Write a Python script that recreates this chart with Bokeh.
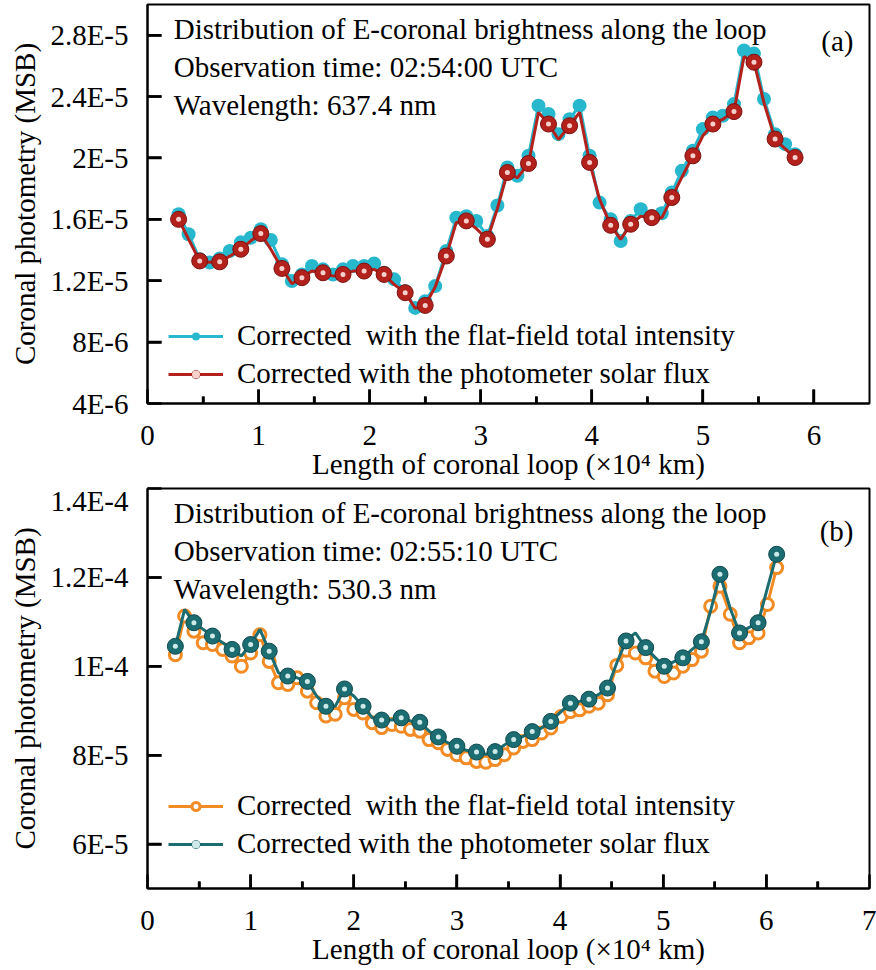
import math
from bokeh.plotting import figure
from bokeh.layouts import column
from bokeh.models import (Range1d, FixedTicker, CustomJSTickFormatter, Label,
                          Legend, LegendItem)
from bokeh.embed import file_html
from bokeh.resources import INLINE

FONT = "Liberation Serif"
FS = "29px"

# ---------------- data: panel (a), 637.4 nm ----------------
x_a = [0.28, 0.37, 0.47, 0.56, 0.65, 0.74, 0.84, 0.93, 1.02, 1.11,
       1.21, 1.30, 1.39, 1.48, 1.58, 1.67, 1.76, 1.85, 1.95, 2.04,
       2.13, 2.22, 2.32, 2.41, 2.50, 2.59, 2.69, 2.78, 2.87, 2.96,
       3.06, 3.15, 3.24, 3.33, 3.43, 3.52, 3.61, 3.70, 3.80, 3.89,
       3.98, 4.07, 4.17, 4.26, 4.35, 4.44, 4.54, 4.63, 4.72, 4.81,
       4.91, 5.00, 5.09, 5.18, 5.28, 5.37, 5.46, 5.55, 5.65, 5.74, 5.83]
# values in units of 1E-5 MSB
flat_a_e5 = [1.633, 1.503, 1.34, 1.318, 1.345, 1.394, 1.45, 1.48, 1.535, 1.465,
             1.307, 1.198, 1.241, 1.296, 1.274, 1.241, 1.274, 1.296, 1.296, 1.313,
             1.252, 1.209, 1.132, 1.023, 1.067, 1.165, 1.394, 1.61, 1.62, 1.589,
             1.492, 1.69, 1.938, 1.884, 2.014, 2.341, 2.286, 2.155, 2.253, 2.341,
             2.014, 1.709, 1.60, 1.459, 1.589, 1.666, 1.62, 1.64, 1.775, 1.916,
             2.047, 2.188, 2.264, 2.275, 2.351, 2.70, 2.68, 2.384, 2.155, 2.09, 2.025]
phot_a_e5 = [1.60, 1.47, 1.329, 1.32, 1.323, 1.36, 1.405, 1.46, 1.507, 1.405,
             1.28, 1.18, 1.22, 1.263, 1.252, 1.23, 1.241, 1.263, 1.263, 1.274,
             1.241, 1.176, 1.122, 1.02, 1.039, 1.16, 1.361, 1.58, 1.59, 1.54,
             1.47, 1.67, 1.905, 1.87, 1.964, 2.297, 2.221, 2.12, 2.21, 2.297,
             1.971, 1.73, 1.561, 1.47, 1.568, 1.62, 1.611, 1.61, 1.742, 1.873,
             2.014, 2.145, 2.221, 2.253, 2.302, 2.66, 2.624, 2.36, 2.123, 2.06, 2.003]

# ---------------- data: panel (b), 530.3 nm ----------------
x_b = [0.27, 0.36, 0.45, 0.54, 0.63, 0.73, 0.82, 0.91, 1.00, 1.09,
       1.18, 1.27, 1.36, 1.45, 1.55, 1.64, 1.73, 1.82, 1.91, 2.00,
       2.09, 2.18, 2.27, 2.37, 2.46, 2.55, 2.64, 2.73, 2.82, 2.91,
       3.00, 3.09, 3.19, 3.28, 3.37, 3.46, 3.55, 3.64, 3.73, 3.82,
       3.91, 4.01, 4.10, 4.19, 4.28, 4.37, 4.46, 4.55, 4.64, 4.73,
       4.83, 4.92, 5.01, 5.10, 5.19, 5.28, 5.37, 5.46, 5.55, 5.65,
       5.74, 5.83, 5.92, 6.01, 6.10]
flat_b_e5 = [10.26, 11.13, 10.79, 10.53, 10.49, 10.38, 10.23, 10.0, 10.30, 10.71,
             10.11, 9.63, 9.59, 9.74, 9.44, 9.18, 8.88, 8.92, 9.29, 9.03,
             8.95, 8.73, 8.62, 8.69, 8.65, 8.58, 8.54, 8.35, 8.28, 8.13,
             8.01, 7.94, 7.86, 7.84, 7.90, 8.01, 8.16, 8.31, 8.35, 8.50,
             8.61, 8.87, 8.98, 9.02, 9.10, 9.17, 9.36, 10.02, 10.36, 10.30,
             10.19, 9.89, 9.77, 9.85, 10.0, 10.15, 10.34, 11.35, 11.80, 11.17,
             10.53, 10.64, 10.75, 11.39, 12.22]
phot_b_e5 = [10.45, 11.28, 10.98, 10.83, 10.68, 10.53, 10.38, 10.23, 10.49, 10.83,
             10.34, 9.85, 9.78, 9.74, 9.66, 9.33, 9.10, 9.10, 9.49, 9.33,
             9.10, 8.84, 8.79, 8.79, 8.84, 8.77, 8.74, 8.54, 8.41, 8.28,
             8.20, 8.11, 8.07, 8.02, 8.08, 8.23, 8.35, 8.42, 8.53, 8.61,
             8.76, 8.98, 9.17, 9.21, 9.26, 9.36, 9.51, 10.08, 10.57, 10.75,
             10.42, 10.2, 10.0, 10.1, 10.19, 10.38, 10.55, 11.25, 12.07, 11.3,
             10.75, 10.87, 10.98, 11.76, 12.52]

flat_a = [v * 1e-5 for v in flat_a_e5]
phot_a = [v * 1e-5 for v in phot_a_e5]
flat_b = [v * 1e-5 for v in flat_b_e5]
phot_b = [v * 1e-5 for v in phot_b_e5]

# ticks
yticks_a = [4e-6, 8e-6, 1.2e-5, 1.6e-5, 2e-5, 2.4e-5, 2.8e-5]
ylabels_a = ["4E-6", "8E-6", "1.2E-5", "1.6E-5", "2E-5", "2.4E-5", "2.8E-5"]
yticks_b = [6e-5, 8e-5, 1e-4, 1.2e-4, 1.4e-4]
ylabels_b = ["6E-5", "8E-5", "1E-4", "1.2E-4", "1.4E-4"]
xticks_a = [0, 1, 2, 3, 4, 5, 6]
xminor_a = [0.5, 1.5, 2.5, 3.5, 4.5, 5.5]
xticks_b = [0, 1, 2, 3, 4, 5, 6, 7]
xminor_b = [0.5, 1.5, 2.5, 3.5, 4.5, 5.5, 6.5]

texts_a = ["Distribution of E-coronal brightness along the loop",
           "Observation time: 02:54:00 UTC",
           "Wavelength: 637.4 nm"]
texts_b = ["Distribution of E-coronal brightness along the loop",
           "Observation time: 02:55:10 UTC",
           "Wavelength: 530.3 nm"]
legend_flat = "Corrected  with the flat-field total intensity"
legend_phot = "Corrected with the photometer solar flux"

FMT_CODE = """
let best = 0; let bd = Infinity;
for (let i = 0; i < tv.length; i++) {
  const d = Math.abs(tv[i] - tick);
  if (d < bd) { bd = d; best = i; }
}
return tl[best];
"""

W = 876
BL, BR = 147, 7
FRAME_W = W - BL - BR
MAJOR_LEN, MINOR_LEN = 14, 7
TICK_W = 2.5


def style(p, xt, xm, yt, yl, frame_h):
    p.xgrid.visible = False
    p.ygrid.visible = False
    p.outline_line_color = "black"
    p.outline_line_width = 2
    p.background_fill_color = "white"
    p.border_fill_color = "white"
    for ax in (p.xaxis[0], p.yaxis[0]):
        ax.axis_line_width = 2
        ax.axis_line_color = "black"
        ax.major_tick_in = MAJOR_LEN
        ax.major_tick_out = 0
        ax.minor_tick_in = MINOR_LEN
        ax.minor_tick_out = 0
        ax.major_tick_line_width = TICK_W
        ax.minor_tick_line_width = TICK_W
        ax.major_tick_line_color = "black"
        ax.minor_tick_line_color = "black"
        ax.major_label_text_font = FONT
        ax.major_label_text_font_size = FS
        ax.major_label_text_color = "black"
        ax.axis_label_text_font = FONT
        ax.axis_label_text_font_size = FS
        ax.axis_label_text_font_style = "normal"
        ax.axis_label_text_color = "black"
    p.xaxis[0].ticker = FixedTicker(ticks=xt, minor_ticks=xm)
    p.yaxis[0].ticker = FixedTicker(ticks=yt, minor_ticks=[])
    p.yaxis[0].formatter = CustomJSTickFormatter(args=dict(tv=yt, tl=yl), code=FMT_CODE)
    p.xaxis[0].major_label_standoff = 22
    p.yaxis[0].major_label_standoff = 19
    p.xaxis[0].axis_label_standoff = 0
    p.yaxis[0].axis_label_standoff = 6
    p.xaxis[0].axis_label = "Length of coronal loop (\u00d710\u2074 km)"
    p.yaxis[0].axis_label = "Coronal photometry (MSB)"
    # inward tick marks as dash markers centred half a tick inside the frame
    x0, x1 = p.x_range.start, p.x_range.end
    y0, y1 = p.y_range.start, p.y_range.end
    xpp = (x1 - x0) / FRAME_W
    ypp = (y1 - y0) / frame_h
    xt_in = [t for t in xt if x0 < t < x1]
    p.scatter(xt_in, [y0 + MAJOR_LEN / 2 * ypp] * len(xt_in), marker="dash",
              angle=math.pi / 2, size=MAJOR_LEN, line_color="black", line_width=TICK_W)
    p.scatter(xm, [y0 + MINOR_LEN / 2 * ypp] * len(xm), marker="dash",
              angle=math.pi / 2, size=MINOR_LEN, line_color="black", line_width=TICK_W)
    yt_in = [t for t in yt if y0 < t < y1]
    p.scatter([x0 + MAJOR_LEN / 2 * xpp] * len(yt_in), yt_in, marker="dash",
              size=MAJOR_LEN, line_color="black", line_width=TICK_W)


def add_texts(p, xs, ys, lines, tag, tag_x, tag_y):
    for t, yy in zip(lines, ys):
        p.add_layout(Label(x=xs, y=yy, text=t, text_font=FONT, text_font_size=FS,
                           text_baseline="alphabetic", text_align="left", text_color="black"))
    p.add_layout(Label(x=tag_x, y=tag_y, text=tag, text_font=FONT, text_font_size=FS,
                       text_baseline="alphabetic", text_align="right", text_color="black"))


# ---------------- panel (a) ----------------
HA, TA, BA = 484, 4, 81
pa = figure(width=W, height=HA, output_backend="svg", toolbar_location=None,
            x_range=Range1d(0, 6.5), y_range=Range1d(4e-6, 3e-5),
            min_border_left=BL, min_border_right=BR, min_border_top=TA, min_border_bottom=BA)
style(pa, xticks_a, xminor_a, yticks_a, ylabels_a, HA - TA - BA)

CYAN = "#27b8ce"
RED = "#b3211c"
la1 = pa.line(x_a, flat_a, line_color=CYAN, line_width=3)
sa1 = pa.scatter(x_a, flat_a, size=14, fill_color=CYAN, line_color=None)
la2 = pa.line(x_a, phot_a, line_color=RED, line_width=3)
sa2 = pa.scatter(x_a[::2], phot_a[::2], size=16, fill_color=RED, line_color="#7a1210", line_width=1)
ha2 = pa.scatter(x_a[::2], phot_a[::2], size=5, fill_color="#f6d0cb", line_color=None)

add_texts(pa, 0.237, [2.84e-5, 2.591e-5, 2.342e-5], texts_a, "(a)", 6.356, 2.765e-5)

leg_a = Legend(items=[LegendItem(label=legend_flat, renderers=[la1, sa1]),
                      LegendItem(label=legend_phot, renderers=[la2, sa2, ha2])],
               location=(21, 13), padding=0, margin=0, spacing=5,
               glyph_width=55, glyph_height=20, label_standoff=14,
               label_text_font=FONT, label_text_font_size=FS, label_text_color="black",
               border_line_color=None, background_fill_alpha=0)
pa.add_layout(leg_a)

# ---------------- panel (b) ----------------
HB, TB, BB = 486, 4, 82
pb = figure(width=W, height=HB, output_backend="svg", toolbar_location=None,
            x_range=Range1d(0, 7), y_range=Range1d(5e-5, 1.4e-4),
            min_border_left=BL, min_border_right=BR, min_border_top=TB, min_border_bottom=BB)
style(pb, xticks_b, xminor_b, yticks_b, ylabels_b, HB - TB - BB)

ORANGE = "#f28b24"
TEAL = "#1c6d72"
lb1 = pb.line(x_b, flat_b, line_color=ORANGE, line_width=3)
sb1 = pb.scatter(x_b, flat_b, size=12, fill_color="white", line_color=ORANGE, line_width=3)
lb2 = pb.line(x_b, phot_b, line_color=TEAL, line_width=3)
sb2 = pb.scatter(x_b[::2], phot_b[::2], size=16, fill_color=TEAL, line_color="#0f4a4e", line_width=1)
hb2 = pb.scatter(x_b[::2], phot_b[::2], size=5, fill_color="#cde9ea", line_color=None)

add_texts(pb, 0.255, [1.3449e-4, 1.2589e-4, 1.1728e-4], texts_b, "(b)", 6.845, 1.3033e-4)

leg_b = Legend(items=[LegendItem(label=legend_flat, renderers=[lb1, sb1]),
                      LegendItem(label=legend_phot, renderers=[lb2, sb2, hb2])],
               location=(21, 28), padding=0, margin=0, spacing=5,
               glyph_width=55, glyph_height=20, label_standoff=14,
               label_text_font=FONT, label_text_font_size=FS, label_text_color="black",
               border_line_color=None, background_fill_alpha=0)
pb.add_layout(leg_b)

layout = column(pa, pb, spacing=0)
open("out.html", "w").write(file_html(layout, INLINE))
